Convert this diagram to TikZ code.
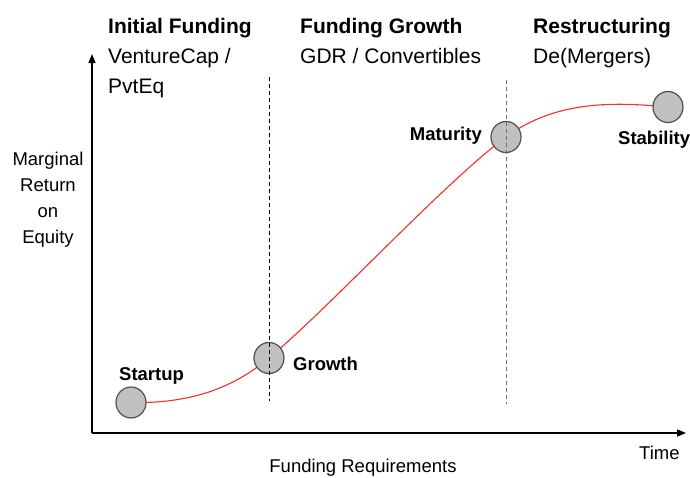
\documentclass[tikz,border=0pt]{standalone}
\usepackage{fontspec}
\setmainfont{Liberation Sans}
\usetikzlibrary{arrows.meta,backgrounds,shapes.geometric}
\definecolor{stagefill}{HTML}{C0C0C0}
\definecolor{stagedraw}{HTML}{505050}
\definecolor{curvered}{HTML}{FF2A2A}
\definecolor{dashgray}{HTML}{707070}
\begin{document}
\begin{tikzpicture}[x=1pt,y=-1pt,
  stage/.style={ellipse,draw=stagedraw,fill=stagefill,line width=1.2pt,minimum width=30pt,minimum height=31pt,inner sep=0pt},
  lbl/.style={font=\fontsize{18.5}{22}\selectfont\bfseries,inner sep=0pt},
  plain/.style={font=\fontsize{18.5}{26}\selectfont,inner sep=0pt},
  header/.style={font=\fontsize{21}{30}\selectfont,inner sep=0pt,align=left,anchor=north west},
  axis/.style={line width=1.4pt,-{Triangle[length=9pt,width=7pt]}},
  phase/.style={dash pattern=on 4pt off 3pt,line width=1pt},
  curve/.style={curvered,line width=1.1pt}]
\useasboundingbox (0,0) rectangle (690,477);
% axes
\coordinate (O) at (92,433);
\coordinate (ytip) at (92,54);
\coordinate (xtip) at (686,433);
\draw[axis] (O) -- (ytip);
\draw[axis] (O) -- (xtip);
% stages
\node[stage] (startup) at (131,402.5) {};
\node[stage] (growth) at (269,358) {};
\node[stage] (maturity) at (506,137) {};
\node[stage] (stability) at (668,107) {};
% curve
\begin{pgfonlayer}{background}
\draw[curve] (startup.center) .. controls (200,404) and (240,382) .. (growth.center)
  .. controls (329,308) and (446,181) .. (maturity.center)
  .. controls (556,100) and (615,102) .. (stability.center);
\end{pgfonlayer}
% phase dividers
\coordinate (d1top) at (269,77);
\coordinate (d1bot) at (269,401);
\coordinate (d2top) at (506,80);
\coordinate (d2bot) at (506,404);
\draw[phase,black] (d1top) -- (d1bot);
\draw[phase,dashgray,line width=0.9pt] (d2top) -- (d2bot);
% stage labels
\node[lbl,anchor=base west] (tstartup) at (119,380) {Startup};
\node[lbl,anchor=base west] (tgrowth) at (293,370) {Growth};
\node[lbl,anchor=base east] (tmaturity) at (482,140) {Maturity};
\node[lbl,anchor=base west] (tstability) at (618,144) {Stability};
% headers
\node[header] (h1) at (108,18) {\textbf{Initial Funding}\\VentureCap /\\PvtEq};
\node[header] (h2) at (300,18) {\textbf{Funding Growth}\\GDR / Convertibles};
\node[header] (h3) at (533,18) {\textbf{Restructuring}\\De(Mergers)};
% axis labels
\node[plain,align=center,anchor=north] (ylab) at (48,151.7) {Marginal\\Return\\on\\Equity};
\node[plain,anchor=base west] (xlab) at (639,459) {Time};
\node[plain,anchor=base] (flab) at (363,472) {Funding Requirements};
\end{tikzpicture}
\end{document}
